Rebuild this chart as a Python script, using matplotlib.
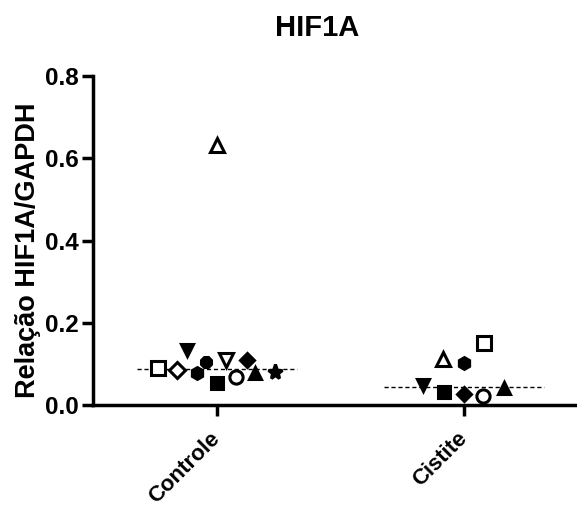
import numpy as np
import matplotlib.pyplot as plt

plt.rcParams['font.family'] = ['Liberation Sans', 'DejaVu Sans']
plt.rcParams['font.weight'] = 'bold'

# data
groups = ['Controle', 'Cistite']

ctrl_vals = [0.090, 0.085, 0.133, 0.078, 0.104, 0.053, 0.109, 0.632, 0.109, 0.068, 0.078, 0.080]
ctrl_offs = [-0.239, -0.162, -0.121, -0.081, -0.045, 0.0, 0.036, 0.0, 0.121, 0.077, 0.154, 0.235]
ctrl_mark = ['s', 'D', 'v', 'h', '8', 's', 'v', '^', 'D', 'o', '^', '*']
ctrl_fill = [False, False, True, True, True, True, False, False, True, False, True, True]

cist_vals = [0.150, 0.112, 0.102, 0.048, 0.032, 0.027, 0.022, 0.041]
cist_offs = [0.081, -0.085, 0.0, -0.166, -0.081, 0.0, 0.077, 0.162]
cist_mark = ['s', '^', 'h', 'v', 's', 'D', 'o', '^']
cist_fill = [False, False, True, True, True, True, False, True]

fig = plt.figure(figsize=(5.77, 5.08), dpi=100)
ax = fig.add_axes([0.161, 0.203, 0.839, 0.647])

def draw_group(x0, vals, offs, marks, fills):
    for v, o, m, f in zip(vals, offs, marks, fills):
        size = 8.5 if f else 9.5
        if m == '*':
            size = 11
        elif m == 'D':
            size -= 1
        ax.plot(x0 + o, v, marker=m, ms=size, mec='black', mew=2.2,
                mfc='black' if f else 'white', ls='none', zorder=3)
    # median line
    med = np.median(vals)
    ax.plot([x0 - 0.324, x0 + 0.324], [med, med], ls='--', color='black',
            lw=1, dashes=(3, 2), zorder=2)

draw_group(0, ctrl_vals, ctrl_offs, ctrl_mark, ctrl_fill)
draw_group(1, cist_vals, cist_offs, cist_mark, cist_fill)

ax.set_xlim(-0.502, 1.457)
ax.set_ylim(0, 0.8)
ax.set_yticks([0.0, 0.2, 0.4, 0.6, 0.8])
ax.set_yticklabels(['0.0', '0.2', '0.4', '0.6', '0.8'], fontsize=17.5, fontweight='bold')
ax.set_xticks([0, 1])
ax.set_xticklabels(groups, fontsize=16, fontweight='bold', rotation=45,
                   ha='right', va='center', rotation_mode='anchor')

for s in ['top', 'right']:
    ax.spines[s].set_visible(False)
for s in ['left', 'bottom']:
    ax.spines[s].set_linewidth(2.5)
ax.tick_params(axis='both', length=8, width=2.5, pad=2)
ax.tick_params(axis='x', pad=14)

ax.set_ylabel('Relação HIF1A/GAPDH', fontsize=19.5, fontweight='bold')
ax.yaxis.set_label_coords(-0.108, 0.47)
fig.text(0.549, 0.945, 'HIF1A', fontsize=21, fontweight='bold', ha='center', va='center')

plt.savefig('out.png', dpi=100)
